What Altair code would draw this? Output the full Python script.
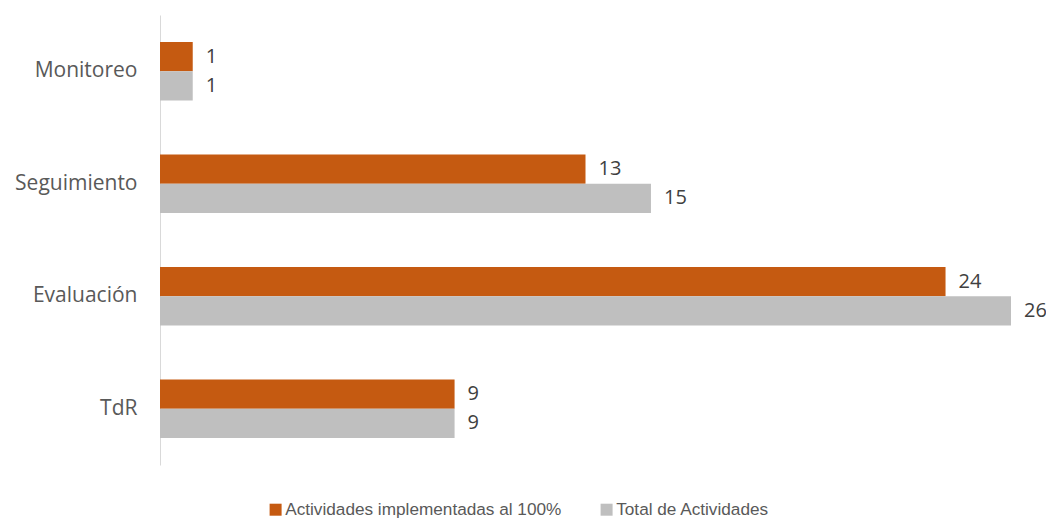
import altair as alt
import pandas as pd

categories = ["Monitoreo", "Seguimiento", "Evaluación", "TdR"]
series = ["Actividades implementadas al 100%", "Total de Actividades"]
implemented = [1, 13, 24, 9]
total = [1, 15, 26, 9]
colors = ["#C55A11", "#BFBFBF"]

rows = []
for c, a, b in zip(categories, implemented, total):
    rows.append({"cat": c, "serie": series[0], "val": a})
    rows.append({"cat": c, "serie": series[1], "val": b})
df = pd.DataFrame(rows)

y = alt.Y(
    "cat:N",
    sort=categories,
    scale=alt.Scale(paddingInner=0.48, paddingOuter=0.24),
    axis=alt.Axis(
        title=None, ticks=False, grid=False, domainColor="#D9D9D9", domainWidth=1,
        labelFont="Open Sans", labelFontSize=21, labelColor="#595959", labelPadding=23,
    ),
)
yoff = alt.YOffset("serie:N", sort=series, scale=alt.Scale(paddingInner=0, paddingOuter=0))
x = alt.X("val:Q", scale=alt.Scale(domain=[0, 26], nice=False, zero=True), axis=None)

bars = alt.Chart(df).mark_bar().encode(
    x=x,
    y=y,
    yOffset=yoff,
    color=alt.Color(
        "serie:N",
        sort=series,
        scale=alt.Scale(domain=series, range=colors),
        legend=alt.Legend(
            title=None, orient="none", direction="horizontal",
            legendX=107, legendY=486, padding=0,
            symbolType="square", symbolSize=144, symbolStrokeWidth=0,
            labelFont="Liberation Sans", labelFontSize=17.2,
            labelColor="#595959", labelOffset=1,
            columnPadding=36, labelLimit=600,
        ),
    ),
)

text = alt.Chart(df).mark_text(
    align="left", baseline="middle", dx=13, font="Open Sans", fontSize=20, color="#404040"
).encode(x=x, y=y, yOffset=yoff, text="val:Q")

chart = (
    alt.layer(bars, text)
    .properties(
        width=851, height=450,
        autosize=alt.AutoSizeParams(type="none"),
        padding={"left": 152, "top": 7, "right": 35, "bottom": 54},
    )
    .configure_view(stroke=None)
)

chart.save("out.html", embed_options={"renderer": "svg", "actions": False})
